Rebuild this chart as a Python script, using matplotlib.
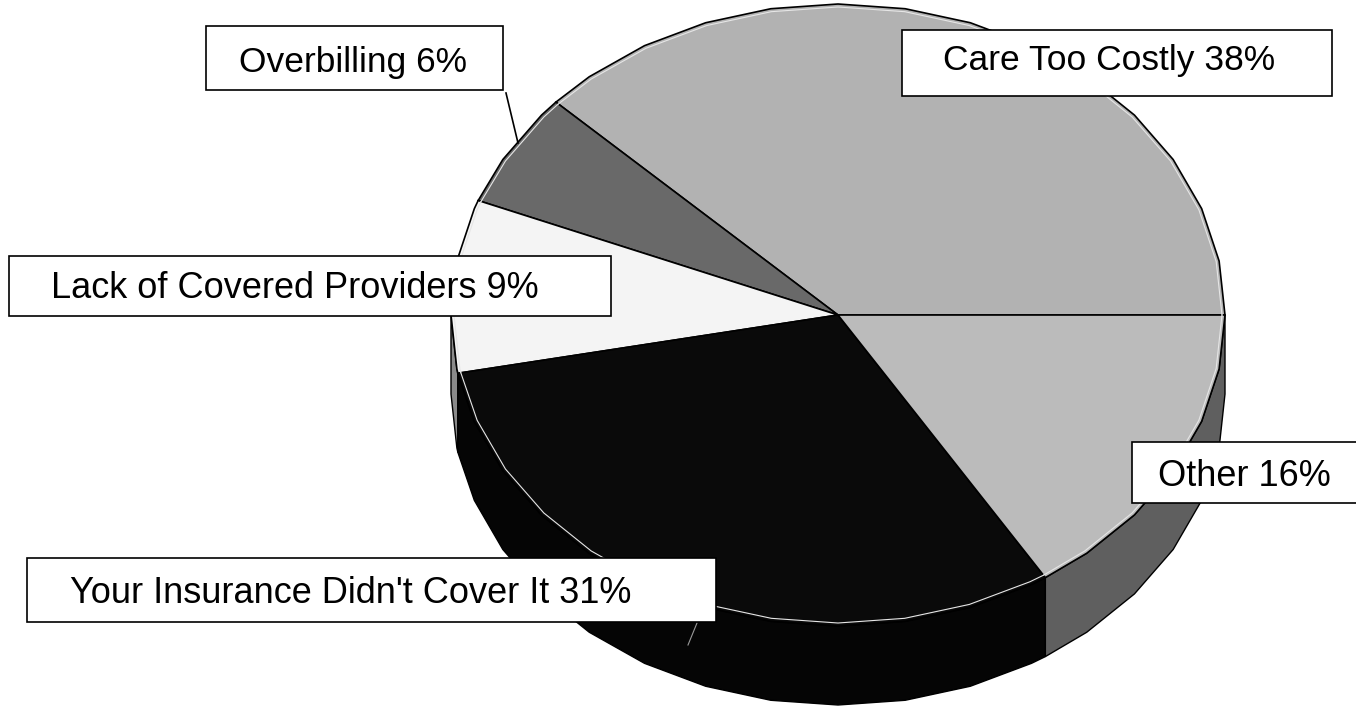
import matplotlib.pyplot as plt
import numpy as np
from matplotlib.patches import Polygon, Rectangle

# Reasons for unpaid / disputed medical bills
labels = ['Care Too Costly', 'Overbilling', 'Lack of Covered Providers',
          "Your Insurance Didn't Cover It", 'Other']
shares = [38, 6, 9, 31, 16]
top_colors = ['#b2b2b2', '#696969', '#f4f4f4', '#0a0a0a', '#bbbbbb']
side_colors = ['#5a5a5a', '#3a3a3a', '#8a8a8a', '#050505', '#5f5f5f']

# ellipse of the pie top and thickness of the disc (pixels)
cx, cy = 838, 315
rx, ry = 387, 311
depth = 79
facet = 10  # degrees between polygon vertices


def arc(a0, a1, dz=0, shrink=0):
    angs = [a0] + [a for a in np.arange(0, 361, facet) if a0 < a < a1] + [a1]
    angs = np.radians(angs)
    xs = cx + (rx - shrink) * np.cos(angs)
    ys = cy - (ry - shrink) * np.sin(angs) + dz
    return np.column_stack([xs, ys])


fig = plt.figure(figsize=(13.56, 7.08), dpi=100)
ax = fig.add_axes([0, 0, 1, 1])
ax.set_xlim(0, 1356)
ax.set_ylim(708, 0)
ax.axis('off')

bounds = np.concatenate([[0], np.cumsum(shares)]) / sum(shares) * 360

# side walls (only the front half is visible)
for i in range(len(shares)):
    a0, a1 = max(bounds[i], 180), min(bounds[i + 1], 360)
    if a1 <= a0:
        continue
    top = arc(a0, a1)
    bot = arc(a0, a1, dz=depth)
    ax.add_patch(Polygon(np.vstack([top, bot[::-1]]), closed=True,
                         fc=side_colors[i], ec='black', lw=1.0))

# top face wedges
for i in range(len(shares)):
    pts = np.vstack([[cx, cy], arc(bounds[i], bounds[i + 1])])
    ax.add_patch(Polygon(pts, closed=True, fc=top_colors[i],
                         ec='black', lw=1.2))
    rim = arc(bounds[i], bounds[i + 1], shrink=3)
    ax.plot(rim[:, 0], rim[:, 1], color='#e6e6e6', lw=0.8)

# leader lines
ax.plot([506, 518], [93, 143], color='black', lw=1.2)
ax.plot([688, 697], [645, 623], color='#9a9a9a', lw=0.8)

# label boxes: (x0, y0, x1, y1) and text anchor (centre x, baseline y)
boxes = [(902, 30, 1332, 96), (206, 26, 503, 90), (9, 256, 611, 316),
         (27, 558, 716, 622), (1132, 442, 1360, 503)]
text_pos = [(1109, 70), (353, 72), (295, 298), (351, 603), (1244, 486)]
sizes = [25.5, 25.5, 26, 26, 26]

for i, lab in enumerate(labels):
    x0, y0, x1, y1 = boxes[i]
    ax.add_patch(Rectangle((x0, y0), x1 - x0, y1 - y0, fc='white',
                           ec='black', lw=1.2, zorder=5))
    ax.text(text_pos[i][0], text_pos[i][1], f'{lab} {shares[i]}%',
            family='Liberation Sans', fontsize=sizes[i],
            ha='center', va='baseline', zorder=6)

fig.savefig('out.png', dpi=100)
